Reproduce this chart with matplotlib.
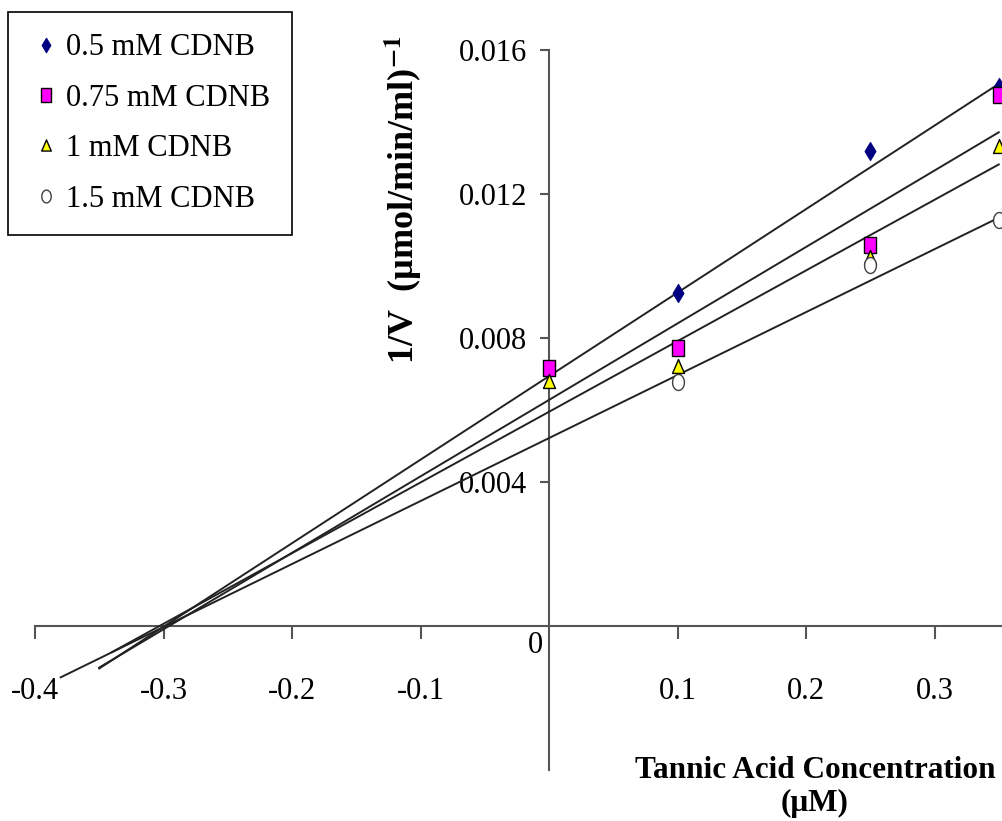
#coding:utf-8

# Lineweaver-Burk style plot: 1/V against tannic acid concentration
# for four CDNB concentrations, with linear trend lines extended back
# to where they meet below the x axis.

import numpy as np
from matplotlib import pyplot as plt
from matplotlib.path import Path
from matplotlib.transforms import ScaledTranslation

plt.rcParams['font.family'] = ['Liberation Serif', 'DejaVu Serif']
plt.rcParams['mathtext.fontset'] = 'stix'

# tannic acid concentration (uM)
conc = [0.0, 0.1, 0.25, 0.35]

# 1/V values for each CDNB concentration (nan = no point shown)
inv_v_05 = [np.nan, 0.00925, 0.0132, 0.01497]
inv_v_075 = [0.00717, 0.00772, 0.01058, 0.01475]
inv_v_1 = [0.0068, 0.00722, 0.01025, 0.01333]
inv_v_15 = [np.nan, 0.00678, 0.01003, 0.01128]

labels = ['0.5 mM CDNB', '0.75 mM CDNB', '1 mM CDNB', '1.5 mM CDNB']

# trend lines: slope, intercept and backward forecast start
fit_slope = [0.0232, 0.02124, 0.01963, 0.01749]
fit_intercept = [0.00694, 0.00628, 0.00595, 0.00522]
fit_start = [-0.35, -0.35, -0.34, -0.38]
fit_end = 0.35

x_ticks = [-0.4, -0.3, -0.2, -0.1, 0.1, 0.2, 0.3]
y_ticks = [0.004, 0.008, 0.012, 0.016]


def shape(verts):
	return Path(verts, closed=True)

def ellipse(w):
	t = np.linspace(0, 2 * np.pi, 40)
	return Path(np.column_stack([w * np.cos(t), 0.5 * np.sin(t)]), closed=True)

# markers are a bit taller than wide
m_diamond = shape([(0, 0.5), (0.3, 0), (0, -0.5), (-0.3, 0), (0, 0.5)])
m_square = shape([(-0.35, -0.5), (0.35, -0.5), (0.35, 0.5), (-0.35, 0.5), (-0.35, -0.5)])
m_triangle = shape([(-0.43, -0.5), (0.43, -0.5), (0, 0.5), (-0.43, -0.5)])
m_circle = ellipse(0.37)

styles = [
	dict(marker=m_diamond, ms=13, mfc='#000080', mec='#000080', mew=0.8),
	dict(marker=m_square, ms=12, mfc='#ff00ff', mec='black', mew=1.0),
	dict(marker=m_triangle, ms=10, mfc='#ffff00', mec='black', mew=1.0),
	dict(marker=m_circle, ms=11.5, mfc='white', mec='#404040', mew=1.0),
]


def plot_series(ax, y, label, st):
	ax.plot(conc, y, linestyle='none', label=label, clip_on=False, zorder=4, **st)

def plot_trend(ax, m, b, x0):
	xs = np.array([x0, fit_end])
	ax.plot(xs, m * xs + b, color='#222222', lw=1.4, zorder=3)


if __name__ == '__main__':

	fig = plt.figure(figsize=(10.03, 8.21), dpi=100)
	ax = fig.add_axes([35 / 1003, 1 - 770 / 821, 1 - 35 / 1003, (770 - 50) / 821])
	ax.set_xlim(-0.4, 0.3533)
	ax.set_ylim(-0.004, 0.016)

	for m, b, x0 in zip(fit_slope, fit_intercept, fit_start):
		plot_trend(ax, m, b, x0)

	for y, lab, st in zip([inv_v_05, inv_v_075, inv_v_1, inv_v_15], labels, styles):
		plot_series(ax, y, lab, st)

	# axes cross at the origin
	for s in ['top', 'right']:
		ax.spines[s].set_visible(False)
	ax.spines['left'].set_position(('data', 0))
	ax.spines['bottom'].set_position(('data', 0))
	for s in ['left', 'bottom']:
		ax.spines[s].set_color('#555555')
		ax.spines[s].set_linewidth(1.5)

	ax.set_xticks(x_ticks)
	ax.set_xticklabels(['%g' % v for v in x_ticks])
	ax.set_yticks(y_ticks)
	ax.set_yticklabels(['%.3f' % v for v in y_ticks])
	ax.tick_params(axis='x', direction='out', length=9, width=1.5, color='#555555',
				   pad=28, labelsize=22)
	ax.tick_params(axis='y', direction='out', length=6.5, width=1.5, color='#555555',
				   pad=9, labelsize=22)

	# zero label of the y axis sits just below the x axis
	off = ScaledTranslation(-6 / 100, -19 / 100, fig.dpi_scale_trans)
	ax.text(0, 0, '0', transform=ax.transData + off, ha='right', va='center', fontsize=22)

	fig.text(403 / 1003, 1 - 200 / 821, '1/V  (\u00b5mol/min/ml)$^{\\mathbf{-1}}$',
			 rotation=90, ha='center', va='center', fontsize=26, fontweight='bold')
	fig.text(815 / 1003, 1 - 787 / 821, 'Tannic Acid Concentration\n(\u03bcM)',
			 ha='center', va='center', ma='center', fontsize=22.5, fontweight='bold',
			 linespacing=1.2)

	leg = ax.legend(loc='upper left', bbox_to_anchor=(8 / 1003, 1 - 12 / 821),
					bbox_transform=fig.transFigure, borderaxespad=0, fontsize=22,
					frameon=True, fancybox=False, edgecolor='black', framealpha=1,
					markerscale=0.8, handlelength=1.1, handletextpad=0.1,
					borderpad=0.7, labelspacing=0.7)
	leg.get_frame().set_linewidth(1.2)

	fig.savefig('out.png', dpi=100)
